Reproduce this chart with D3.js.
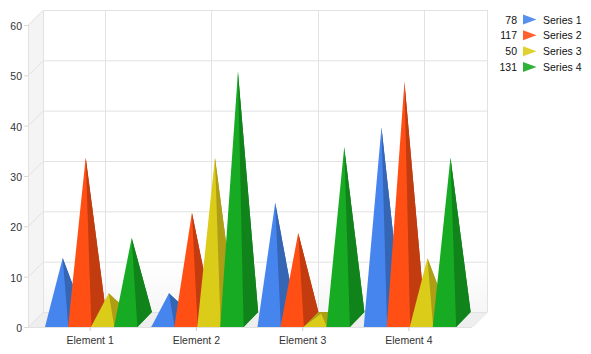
<!DOCTYPE html>
<html><head><meta charset="utf-8">
<script src="https://cdn.jsdelivr.net/npm/d3@7"></script>
<style>html,body{margin:0;padding:0;background:#fff}svg{display:block}text{font-family:"Liberation Sans",Arial,sans-serif;font-size:10.5px;fill:#333}.lg{fill:#111}</style>
</head><body><div id="c"></div>
<script>
const categories=["Element 1","Element 2","Element 3","Element 4"];
const seriesNames=["Series 1","Series 2","Series 3","Series 4"];
const series1=[12,5,23,38];
const series2=[32,21,17,47];
const series3=[5,32,1,12];
const series4=[16,49,34,32];
const totals=[78,117,50,131];
const yTicks=[0,10,20,30,40,50,60];
const colors=["#4684EE","#FF4F15","#DCCC1A","#16AB22"];
const darks=["#3565B5","#C23C10","#AD9E15","#10841A"];
const all=[series1,series2,series3,series4];

const W=591,H=354,depth=15,floorY=327,topY=25;
const svg=d3.select("#c").append("svg").attr("width",W).attr("height",H);
const y=d3.scaleLinear().domain([0,60]).range([floorY,topY]);
const x0=d3.scaleBand().domain(categories).range([37,462]);
const x1=d3.scaleBand().domain(seriesNames).range([0,92]);
const left=28,right=472;
const defs=svg.append("defs");
const g1=defs.append("linearGradient").attr("id","wall").attr("x1",0).attr("x2",0).attr("y1",0).attr("y2",1);
g1.append("stop").attr("offset","0").attr("stop-color","#fff");
g1.append("stop").attr("offset","0.83").attr("stop-color","#fff");
g1.append("stop").attr("offset","1").attr("stop-color","#f6f6f6");
const pts=a=>a.map(p=>p.join(",")).join(" ");
// walls
svg.append("polygon").attr("points",pts([[left+depth,y(60)-depth],[right+depth,y(60)-depth],[right+depth,floorY-depth],[left+depth,floorY-depth]])).attr("fill","url(#wall)");
svg.append("polygon").attr("points",pts([[left,y(60)],[left+depth,y(60)-depth],[left+depth,floorY-depth],[left,floorY]])).attr("fill","#f4f4f4");
svg.append("polygon").attr("points",pts([[left,floorY],[left+depth,floorY-depth],[right+depth,floorY-depth],[right,floorY]])).attr("fill","#eeeeee");
const grid="#e2e2e2";
yTicks.forEach(t=>{
  svg.append("polyline").attr("fill","none").attr("stroke",grid).attr("points",pts([[left,y(t)+.5],[left+depth,y(t)-depth+.5],[right+depth,y(t)-depth+.5]]));
});
svg.append("line").attr("x1",right+depth+.5).attr("x2",right+depth+.5).attr("y1",y(60)-depth).attr("y2",floorY-depth).attr("stroke",grid);
svg.append("line").attr("x1",right+.5).attr("x2",right+depth+.5).attr("y1",floorY).attr("y2",floorY-depth).attr("stroke",grid);
svg.append("line").attr("x1",left+.5).attr("x2",left+.5).attr("y1",y(60)).attr("y2",floorY).attr("stroke",grid);
svg.append("line").attr("x1",left+depth+.5).attr("x2",left+depth+.5).attr("y1",y(60)-depth).attr("y2",floorY-depth).attr("stroke",grid);
categories.forEach(c=>{
  const px=Math.round(x0(c)+x0.bandwidth()/2)+.5;
  svg.append("line").attr("x1",px+depth).attr("x2",px+depth).attr("y1",y(60)-depth).attr("y2",floorY-depth).attr("stroke",grid);
});
// axes
const ax=d3.axisLeft(y).tickValues(yTicks).tickSize(4).tickPadding(2);
const gy=svg.append("g").attr("transform",`translate(${left},0)`).call(ax);
gy.select(".domain").remove();
gy.selectAll("line").attr("stroke","#d8d8d8");
gy.selectAll("text").attr("dy","0.42em").style("font-size","10.5px").style("font-family",'"Liberation Sans"');
const bx=d3.axisBottom(x0).tickSize(4).tickPadding(6);
const gx=svg.append("g").attr("transform",`translate(0,${floorY})`).call(bx);
gx.select(".domain").attr("stroke",grid).attr("d",`M${left},0.5H${right}`);
gx.selectAll("line").attr("stroke","#d0d0d0");
gx.selectAll("text").style("font-size","10.5px").style("font-family",'"Liberation Sans"');
// pyramids
const bw=23.4;
seriesNames.forEach((s,i)=>{
  const g=svg.append("g").attr("class","series");
  categories.forEach((c,j)=>{
    const v=all[i][j];
    const xl=x0(c)+8+x1(s), xr=xl+bw;
    const ax_=(xl+xr)/2+depth*0.4, ay=y(v)-depth/2-1;
    const fl=[xl,floorY],fr=[xr,floorY],bl=[xl+depth,floorY-depth],br=[xr+depth-.5,floorY-depth];
    const A=[ax_,ay];
    g.append("polygon").attr("points",pts([fl,bl,br,fr])).attr("fill",darks[i]);
    g.append("polygon").attr("points",pts([A,bl,br])).attr("fill",darks[i]);
    g.append("polygon").attr("points",pts([A,fr,br])).attr("fill",darks[i]);
    g.append("polygon").attr("points",pts([A,fl,fr])).attr("fill",colors[i]);
  });
});
// legend
const ly=d3.scalePoint().domain(seriesNames).range([19.5,67]);
seriesNames.forEach((s,i)=>{
  const yy=ly(s);
  svg.append("text").attr("class","lg").attr("x",517).attr("y",yy+4).attr("text-anchor","end").text(totals[i]);
  svg.append("polygon").attr("points",pts([[523,yy-5],[536.5,yy],[523,yy+5]])).attr("fill",colors[i]).attr("fill-opacity",0.9);
  svg.append("text").attr("class","lg").attr("x",543).attr("y",yy+4).text(s);
});
</script></body></html>
